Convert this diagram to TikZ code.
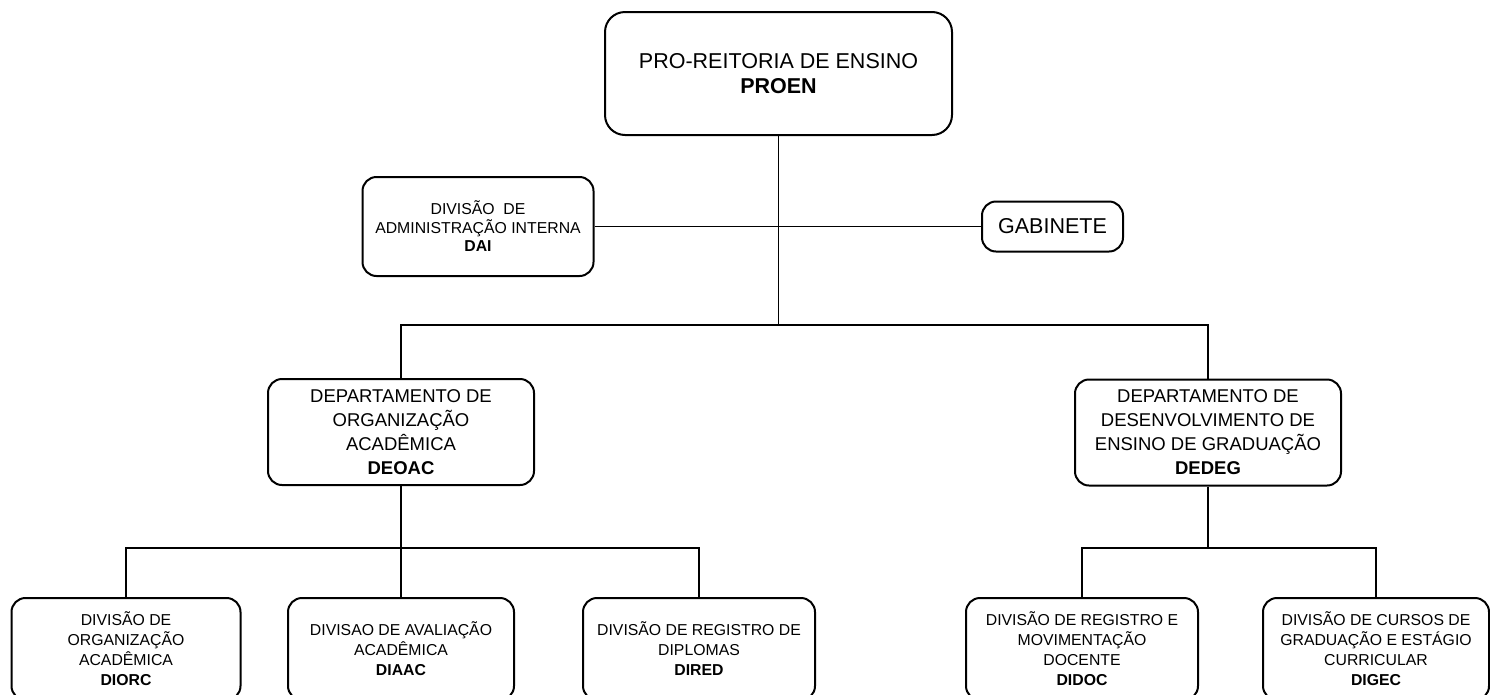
\documentclass[tikz,border=0pt]{standalone}
\usepackage{fontspec}
\setmainfont{Liberation Sans}
\newcommand{\ftopfont}{\fontsize{21.5}{25}\selectfont}
\newcommand{\fdeptfont}{\fontsize{18.5}{24}\selectfont}
\newcommand{\fdaifont}{\fontsize{15.8}{18.5}\selectfont}
\newcommand{\fsmallfont}{\fontsize{15.8}{20}\selectfont}
\tikzset{
  box/.style={draw, line width=2pt, rounded corners=14pt, align=center, inner sep=0pt},
  link/.style={line width=1.8pt}
}
\begin{document}
\begin{tikzpicture}[x=1pt,y=-1pt]
\useasboundingbox (0,0) rectangle (1490,694);
% top
\node[box, rounded corners=20pt, minimum width=347pt, minimum height=123pt, font=\ftopfont] (proen) at (778.5,73.5) {PRO-REITORIA DE ENSINO\\\textbf{PROEN}};
\node[box, minimum width=231pt, minimum height=99pt, font=\fdaifont] (dai) at (478,226.5) {DIVISÃO\ \ DE\\ADMINISTRAÇÃO INTERNA\\\textbf{DAI}};
\node[box, minimum width=141pt, minimum height=50pt, font=\ftopfont] (gab) at (1052.5,226.5) {GABINETE};
% departments
\node[box, minimum width=266pt, minimum height=106pt, font=\fdeptfont] (deoac) at (401,432) {DEPARTAMENTO DE\\ORGANIZAÇÃO\\ACADÊMICA\\\textbf{DEOAC}};
\node[box, minimum width=266pt, minimum height=106pt, font=\fdeptfont] (dedeg) at (1208,432.5) {DEPARTAMENTO DE\\DESENVOLVIMENTO DE\\ENSINO DE GRADUAÇÃO\\\textbf{DEDEG}};
% divisions
\node[box, minimum width=229pt, minimum height=102pt, font=\fsmallfont] (diorc) at (126,649) {DIVISÃO DE\\ORGANIZAÇÃO\\ACADÊMICA\\\textbf{DIORC}};
\node[box, minimum width=226pt, minimum height=102pt, font=\fsmallfont] (diaac) at (401,649) {DIVISAO DE AVALIAÇÃO\\ACADÊMICA\\\textbf{DIAAC}};
\node[box, minimum width=232pt, minimum height=102pt, font=\fsmallfont] (dired) at (699,649) {DIVISÃO DE REGISTRO DE\\DIPLOMAS\\\textbf{DIRED}};
\node[box, minimum width=232pt, minimum height=102pt, font=\fsmallfont] (didoc) at (1082,649) {DIVISÃO DE REGISTRO E\\MOVIMENTAÇÃO\\DOCENTE\\\textbf{DIDOC}};
\node[box, minimum width=226pt, minimum height=102pt, font=\fsmallfont] (digec) at (1376,649) {DIVISÃO DE CURSOS DE\\GRADUAÇÃO E ESTÁGIO\\CURRICULAR\\\textbf{DIGEC}};
% junctions
\coordinate (j0) at (778.5,325);
\coordinate (tl) at (401,325);
\coordinate (tr) at (1208,325);
\coordinate (bl) at (126,548);
\coordinate (br) at (699,548);
\coordinate (rl) at (1082,548);
\coordinate (rr) at (1376,548);
% connectors
\draw[link] (proen.south) -- (j0);
\draw[link] (dai.east) -- (gab.west);
\draw[link] (deoac.north) -- (tl) -- (tr) -- (dedeg.north);
\draw[link] (deoac.south) -- (diaac.north);
\draw[link] (diorc.north) -- (bl) -- (br) -- (dired.north);
\draw[link] (dedeg.south) -- (dedeg.south |- rl);
\draw[link] (didoc.north) -- (rl) -- (rr) -- (digec.north);
\end{tikzpicture}
\end{document}
